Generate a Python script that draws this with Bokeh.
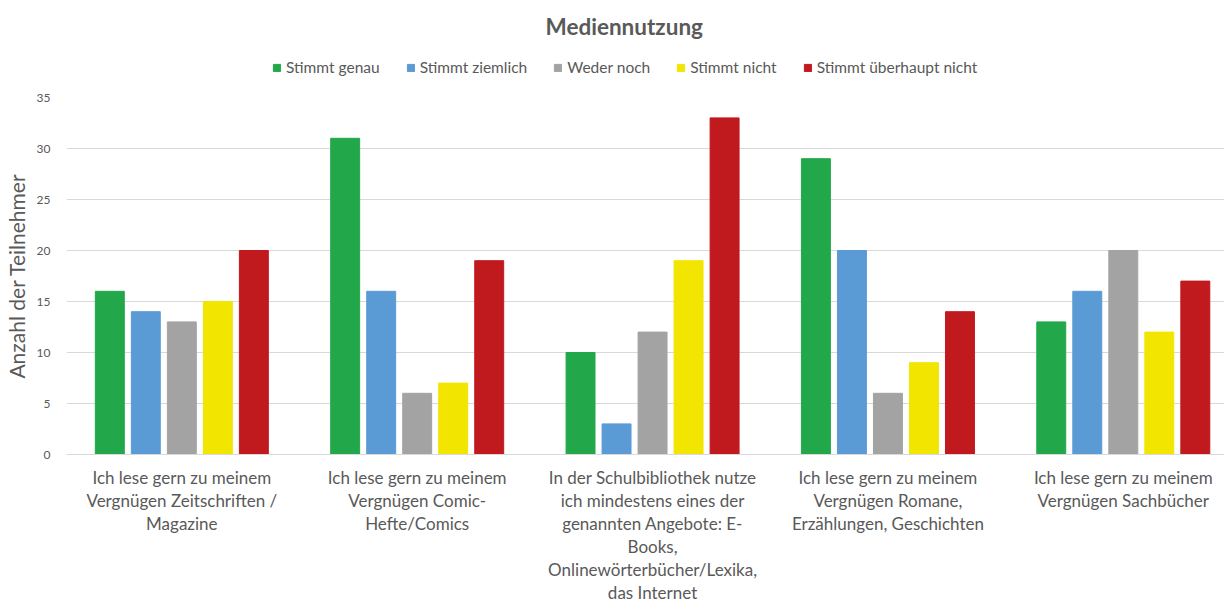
import numpy as np
from bokeh.plotting import figure
from bokeh.layouts import column
from bokeh.models import Legend, LegendItem, FixedTicker, Range1d, Title, ColumnDataSource
from bokeh.embed import file_html
from bokeh.resources import INLINE

categories = [
    "Ich lese gern zu meinem\nVergnügen Zeitschriften /\nMagazine",
    "Ich lese gern zu meinem\nVergnügen Comic-\nHefte/Comics",
    "In der Schulbibliothek nutze\nich mindestens eines der\ngenannten Angebote: E-\nBooks,\nOnlinewörterbücher/Lexika,\ndas Internet",
    "Ich lese gern zu meinem\nVergnügen Romane,\nErzählungen, Geschichten",
    "Ich lese gern zu meinem\nVergnügen Sachbücher",
]
series_names = ["Stimmt genau", "Stimmt ziemlich", "Weder noch", "Stimmt nicht", "Stimmt überhaupt nicht"]
stimmt_genau = [16, 31, 10, 29, 13]
stimmt_ziemlich = [14, 16, 3, 20, 16]
weder_noch = [13, 6, 12, 6, 20]
stimmt_nicht = [15, 7, 19, 9, 12]
stimmt_ueberhaupt_nicht = [20, 19, 33, 14, 17]
y_ticks = [0, 5, 10, 15, 20, 25, 30, 35]

series = [stimmt_genau, stimmt_ziemlich, weder_noch, stimmt_nicht, stimmt_ueberhaupt_nicht]
colors = ["#22A84A", "#5B9BD5", "#A3A3A3", "#F2E500", "#C0191E"]

FONT = "Lato"
TXT = "#595959"
TOP_H = 91

# header: title + legend
head = figure(width=1224, height=TOP_H, output_backend="svg", toolbar_location=None,
              x_range=Range1d(-0.49, 4.43), y_range=Range1d(100, 101),
              x_axis_type=None, y_axis_type=None,
              min_border_left=0, min_border_right=0, min_border_top=42, min_border_bottom=0)
head.outline_line_color = None
head.title = Title(text="Mediennutzung", align="left", text_font=FONT, text_font_size="22.5px",
                   text_color=TXT, text_font_style="bold", offset=479, standoff=5)

# main chart
p = figure(width=1224, height=606 - TOP_H, output_backend="svg", toolbar_location=None,
           x_range=head.x_range, y_range=Range1d(0, 35),
           min_border_left=60, min_border_right=0, min_border_top=6, min_border_bottom=151)
p.outline_line_color = None

idx = np.arange(len(categories))
offsets = [-2, -1, 0, 1, 2]
items = []
for name, vals, col, k in zip(series_names, series, colors, offsets):
    src = ColumnDataSource(dict(x=idx + k * 0.153, top=vals))
    p.vbar(x="x", top="top", width=0.123, source=src, color=col, line_color=col)
    rh = head.vbar(x="x", top="top", width=0.123, source=src, color=col, line_color=col)
    items.append(LegendItem(label=name, renderers=[rh]))

legend = Legend(items=items, orientation="horizontal", location=(206, 15),
                label_text_font=FONT, label_text_font_size="15.5px", label_text_color=TXT,
                glyph_width=9, glyph_height=9, spacing=26, label_standoff=5,
                border_line_color=None, background_fill_alpha=0, padding=2, margin=0)
head.add_layout(legend, "center")

p.xaxis.ticker = FixedTicker(ticks=list(idx))
p.xaxis.major_label_overrides = {int(i): c for i, c in enumerate(categories)}
p.xaxis.major_label_text_font = FONT
p.xaxis.major_label_text_font_size = "17px"
p.xaxis.major_label_text_line_height = 1.1
p.xaxis.major_label_text_color = TXT
p.xaxis.major_tick_line_color = None
p.xaxis.minor_tick_line_color = None
p.xaxis.axis_line_color = "#D9D9D9"
p.xaxis.major_label_standoff = 6

p.yaxis.ticker = FixedTicker(ticks=y_ticks)
p.yaxis.major_label_text_font = FONT
p.yaxis.major_label_text_font_size = "12px"
p.yaxis.major_label_text_color = TXT
p.yaxis.major_tick_line_color = None
p.yaxis.minor_tick_line_color = None
p.yaxis.axis_line_color = None
p.yaxis.major_label_standoff = 10
p.yaxis.axis_label = "Anzahl der Teilnehmer"
p.yaxis.axis_label_text_font = FONT
p.yaxis.axis_label_text_font_size = "21px"
p.yaxis.axis_label_text_font_style = "normal"
p.yaxis.axis_label_text_color = TXT
p.yaxis.axis_label_standoff = 5

p.xgrid.grid_line_color = None
p.ygrid.grid_line_color = "#D9D9D9"

layout = column(head, p, spacing=0)
open("out.html", "w").write(file_html(layout, INLINE))
